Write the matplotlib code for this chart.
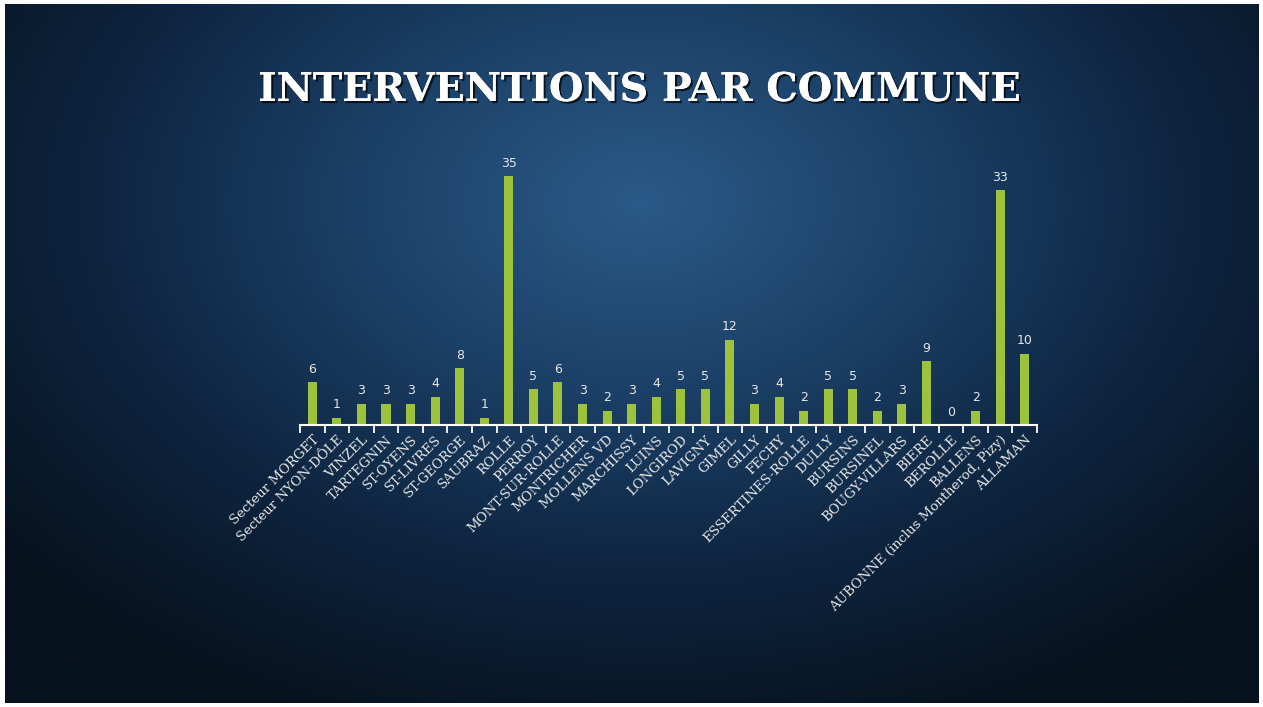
import numpy as np
import matplotlib
matplotlib.use("Agg")
import matplotlib.pyplot as plt
from matplotlib.colors import LinearSegmentedColormap
import matplotlib.patheffects as pe

categories = ["Secteur MORGET", "Secteur NYON-DÔLE", "VINZEL", "TARTEGNIN", "ST-OYENS",
              "ST-LIVRES", "ST-GEORGE", "SAUBRAZ", "ROLLE", "PERROY", "MONT-SUR-ROLLE",
              "MONTRICHER", "MOLLENS VD", "MARCHISSY", "LUINS", "LONGIROD", "LAVIGNY",
              "GIMEL", "GILLY", "FECHY", "ESSERTINES-ROLLE", "DULLY", "BURSINS",
              "BURSINEL", "BOUGY-VILLARS", "BIERE", "BEROLLE", "BALLENS",
              "AUBONNE (inclus Montherod, Pizy)", "ALLAMAN"]
values = [6, 1, 3, 3, 3, 4, 8, 1, 35, 5, 6, 3, 2, 3, 4, 5, 5, 12, 3, 4, 2, 5, 5, 2, 3, 9, 0, 2, 33, 10]
title = "INTERVENTIONS PAR COMMUNE"

W, H = 1263, 707
fig = plt.figure(figsize=(W / 100, H / 100), dpi=100, facecolor="white")

# background slide with radial gradient
bl, bb, br, bt = 5, 4, 4, 4
bg = fig.add_axes([bl / W, bb / H, (W - bl - br) / W, (H - bb - bt) / H])
yy, xx = np.mgrid[0:H, 0:W]
cx, cy = 640, 200
d = np.sqrt(((xx - cx) / 820.0) ** 2 + ((yy - cy) / 560.0) ** 2)
d = np.clip(d, 0, 1)
cmap = LinearSegmentedColormap.from_list("bgc", ["#2a5a88", "#1c4168", "#0e2540", "#07121f"])
bg.imshow(d, cmap=cmap, aspect="auto", extent=[0, W, H, 0], vmin=0, vmax=1)
bg.set_axis_off()

# title
fig.text(640 / W, 1 - 90 / H, title, ha="center", va="center", color="white",
         fontsize=28.5, fontweight="bold", family="DejaVu Serif",
         path_effects=[pe.withSimplePatchShadow(offset=(1.5, -1.5), shadow_rgbFace="black", alpha=0.7), pe.Normal()])

# chart
ax = fig.add_axes([300 / W, 1 - 425 / H, 737 / W, 284.6 / H])
ax.patch.set_alpha(0)
x = np.arange(len(categories))
bars = ax.bar(x, values, width=0.37, color="#9dc23b")
ax.set_xlim(-0.5, len(categories) - 0.5)
ax.set_ylim(0, 40)
for xi, v in zip(x, values):
    ax.text(xi, v + 0.9, str(v), ha="center", va="bottom", color="#e6e6e6",
            fontsize=9, family="DejaVu Sans")

for s in ["top", "right", "left"]:
    ax.spines[s].set_visible(False)
ax.spines["bottom"].set_color("white")
ax.spines["bottom"].set_linewidth(1.5)
ax.set_yticks([])
ax.set_xticks(np.arange(-0.5, len(categories), 1.0))
ax.set_xticklabels([])
ax.tick_params(axis="x", which="major", length=6, width=1.3, color="white", direction="out")
ax.set_xticks(x, minor=True)
ax.set_xticklabels(categories, minor=True, rotation=45, ha="right", rotation_mode="anchor",
                   color="#e8e8e8", fontsize=9.5, family="DejaVu Serif")
ax.tick_params(axis="x", which="minor", length=0, pad=6)

fig.savefig("out.png", dpi=100, facecolor="white")
